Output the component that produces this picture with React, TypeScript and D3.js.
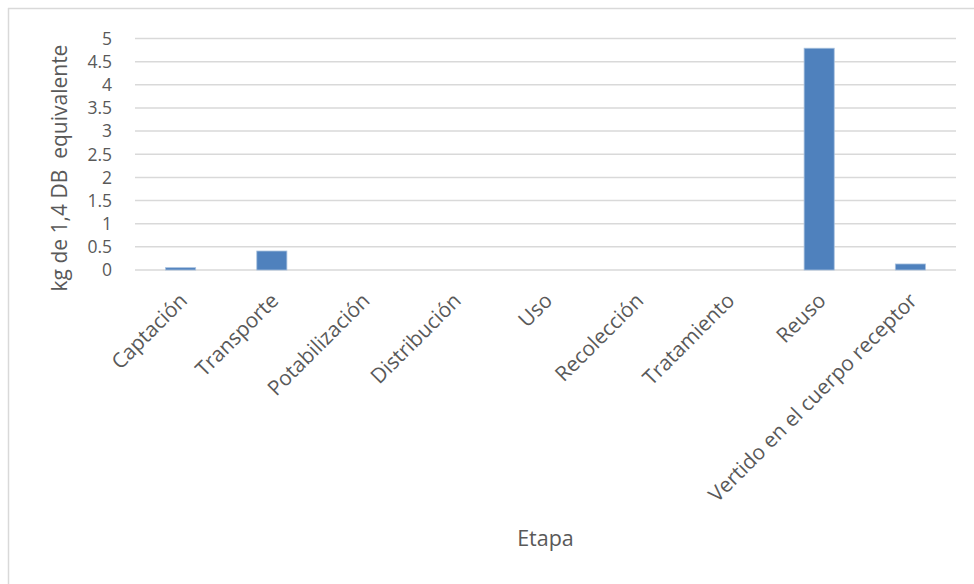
import React from "react";
import * as d3 from "d3";

const categories = [
  "Captación",
  "Transporte",
  "Potabilización",
  "Distribución",
  "Uso",
  "Recolección",
  "Tratamiento",
  "Reuso",
  "Vertido en el cuerpo receptor",
];
const values = [0.05, 0.41, 0, 0, 0, 0, 0, 4.79, 0.13];
const yTicks = [0, 0.5, 1, 1.5, 2, 2.5, 3, 3.5, 4, 4.5, 5];
const yTitle = "kg de 1,4 DB\u00a0 equivalente";
const xTitle = "Etapa";

const W = 974;
const H = 584;
const FONT = "'Open Sans', 'DejaVu Sans', sans-serif";
const TXT = "#595959";

export default function App() {
  const x = d3.scaleBand<string>().domain(categories).range([135, 956]).paddingInner(0.67).paddingOuter(0.335);
  const y = d3.scaleLinear().domain([0, 5]).range([270, 38.5]);
  return (
    <svg width={W} height={H} style={{ position: "absolute", left: 0, top: 0, background: "#fff" }}>
      <line x1={8} y1={8.5} x2={W} y2={8.5} stroke="#d9d9d9" strokeWidth={1.5} />
      <line x1={8.5} y1={8} x2={8.5} y2={H} stroke="#d9d9d9" strokeWidth={1.5} />
      {yTicks.map((t) => (
        <g key={t}>
          <line x1={135} x2={956} y1={y(t)} y2={y(t)} stroke="#d9d9d9" strokeWidth={1.5} />
          <text x={112} y={y(t)} dy="0.36em" textAnchor="end" fontFamily={FONT} fontSize={17.5} fill={TXT}>
            {String(t)}
          </text>
        </g>
      ))}
      {categories.map((c, i) => (
        <rect
          key={c}
          x={x(c)!}
          y={y(values[i])}
          width={x.bandwidth()}
          height={Math.max(0, y(0) - y(values[i]))}
          fill="#4f81bd"
          stroke={values[i] > 0 ? "#a7c0de" : "none"}
          strokeWidth={0.8}
        />
      ))}
      {categories.map((c) => {
        const cx = x(c)! + x.bandwidth() / 2;
        return (
          <text
            key={c + "l"}
            transform={`translate(${cx + 8},${302}) rotate(-45)`}
            textAnchor="end"
            fontFamily={FONT}
            fontSize={20.8}
            fill={TXT}
          >
            {c}
          </text>
        );
      })}
      <text
        transform={`translate(${67},${168}) rotate(-90)`}
        textAnchor="middle"
        fontFamily={FONT}
        fontSize={21}
        fill={TXT}
      >
        {yTitle}
      </text>
      <text x={545.5} y={546} textAnchor="middle" fontFamily={FONT} fontSize={21.5} fill={TXT}>
        {xTitle}
      </text>
    </svg>
  );
}
